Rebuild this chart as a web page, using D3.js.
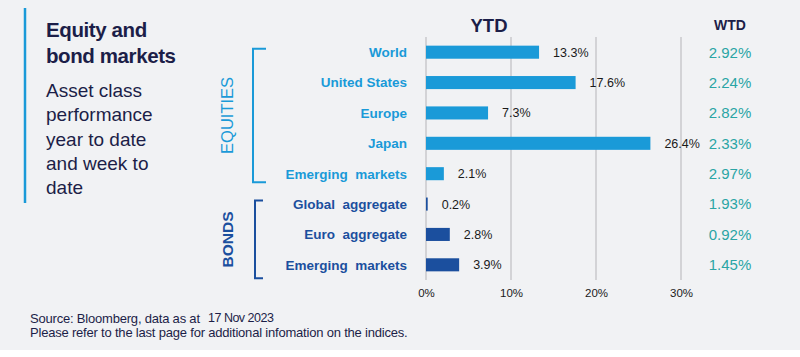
<!DOCTYPE html>
<html><head><meta charset="utf-8">
<script src="https://cdn.jsdelivr.net/npm/d3@7"></script>
<style>body{margin:0;background:#fff}svg{display:block;font-family:"Liberation Sans",Arial,sans-serif}</style>
</head><body><svg id="c" width="800" height="357"></svg>
<script>
const categories = ["World","United States","Europe","Japan","Emerging  markets","Global  aggregate","Euro  aggregate","Emerging  markets"];
const groups = ["EQUITIES","EQUITIES","EQUITIES","EQUITIES","EQUITIES","BONDS","BONDS","BONDS"];
const ytd = [13.3,17.6,7.3,26.4,2.1,0.2,2.8,3.9];
const wtd = [2.92,2.24,2.82,2.33,2.97,1.93,0.92,1.45];
const xTicks = [0,10,20,30];
const groupNames = ["EQUITIES","BONDS"];

const svg = d3.select("#c");
const navy = "#1c1e48";
const colEq = "#1a9ad8", colBd = "#1b4f9e", teal = "#2aa5a5";
const color = g => g === "EQUITIES" ? colEq : colBd;

svg.append("rect").attr("width",800).attr("height",350).attr("fill","#f1f2f4");

// left panel
svg.append("line").attr("x1",25).attr("x2",25).attr("y1",8).attr("y2",203).attr("stroke",colEq).attr("stroke-width",2.5);
const title = svg.append("text").attr("x",46).attr("fill",navy).attr("font-weight","bold").attr("font-size",20.5).attr("letter-spacing",-0.4);
["Equity and","bond markets"].forEach((t,i)=>title.append("tspan").attr("x",46).attr("y",37+i*26).text(t));
const sub = svg.append("text").attr("fill",navy).attr("font-size",19);
["Asset class","performance","year to date","and week to","date"].forEach((t,i)=>sub.append("tspan").attr("x",46).attr("y",97+i*24.3).text(t));

const idx = d3.range(categories.length);
const x = d3.scaleLinear().domain([0,30]).range([426,681]);
const y = d3.scaleBand().domain(idx).range([37,280]).paddingInner(0.57).paddingOuter(0.285);

// grid
svg.append("g").selectAll("line").data(xTicks).join("line")
  .attr("x1",d=>x(d)).attr("x2",d=>x(d)).attr("y1",37).attr("y2",280)
  .attr("stroke","#c8c9cc").attr("stroke-width",1.5);

const ax = svg.append("g").attr("transform","translate(0,289)")
  .call(d3.axisBottom(x).tickValues(xTicks).tickFormat(d=>d+"%").tickSize(0).tickPadding(0));
ax.select(".domain").remove();
ax.selectAll("text").attr("font-size",11.5).attr("fill","#1a1a1a").attr("font-family","Liberation Sans, Arial, sans-serif").attr("dy","0.71em");

// bars
svg.append("g").selectAll("rect").data(idx).join("rect")
  .attr("x",x(0)).attr("y",i=>y(i)).attr("height",y.bandwidth())
  .attr("width",i=>x(ytd[i])-x(0)).attr("fill",i=>color(groups[i]));

svg.append("g").selectAll("text").data(idx).join("text")
  .attr("x",i=>x(ytd[i])+14).attr("y",i=>y(i)+y.bandwidth()/2).attr("dy","0.36em")
  .attr("font-size",12.5).attr("fill","#1a1a1a").text(i=>ytd[i].toFixed(1)+"%");

// category labels
svg.append("g").selectAll("text").data(idx).join("text")
  .attr("x",407).attr("y",i=>y(i)+y.bandwidth()/2).attr("dy","0.36em")
  .attr("text-anchor","end").attr("font-weight","bold").attr("font-size",13.5)
  .attr("fill",i=>color(groups[i])).attr("xml:space","preserve").style("white-space","pre")
  .text(i=>categories[i]);

// WTD
svg.append("g").selectAll("text").data(idx).join("text")
  .attr("x",730).attr("y",i=>y(i)+y.bandwidth()/2).attr("dy","0.36em")
  .attr("text-anchor","middle").attr("font-size",15).attr("fill",teal)
  .text(i=>wtd[i].toFixed(2)+"%");

// headers
svg.append("text").attr("x",489).attr("y",32).attr("text-anchor","middle").attr("font-weight","bold").attr("font-size",18.5).attr("fill",navy).text("YTD");
svg.append("text").attr("x",730).attr("y",30).attr("text-anchor","middle").attr("font-weight","bold").attr("font-size",14).attr("fill",navy).text("WTD");

// group brackets
groupNames.forEach((g,gi)=>{
  const ids = idx.filter(i=>groups[i]===g);
  const c = color(g);
  const top = y(ids[0]) + 3, bot = y(ids[ids.length-1]) + y.bandwidth() + (gi===0?2:7);
  const bx = gi===0 ? 253 : 255, tx = gi===0 ? 266 : 263;
  svg.append("path").attr("d",`M${tx},${top}H${bx}V${bot}H${tx}`).attr("fill","none").attr("stroke",c).attr("stroke-width",2);
  const mid = (top+bot)/2;
  svg.append("text").attr("transform",`translate(227,${mid}) rotate(-90)`).attr("text-anchor","middle").attr("dy","0.36em")
    .attr("fill",c).attr("font-size",gi===0?16.5:15.5).attr("font-weight",gi===0?"normal":"bold").text(g);
});

// footer
const f1 = svg.append("text").attr("x",30).attr("y",323).attr("fill",navy).attr("font-size",13).attr("letter-spacing",-0.2);
f1.append("tspan").text("Source: Bloomberg, data as at ");
f1.append("tspan").attr("x",208).attr("dy",-1).attr("font-size",12.5).attr("letter-spacing",-0.5).text("17 Nov 2023");
svg.append("text").attr("x",30).attr("y",337).attr("fill",navy).attr("font-size",13).attr("letter-spacing",-0.2)
  .text("Please refer to the last page for additional infomation on the indices.");
</script></body></html>
